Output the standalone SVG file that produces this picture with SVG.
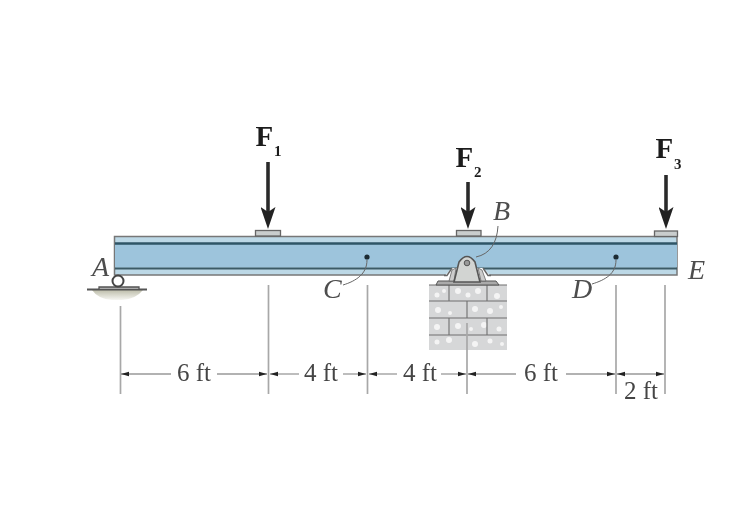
<svg xmlns="http://www.w3.org/2000/svg" width="756" height="528" viewBox="0 0 756 528">
<style>
.lab{font-family:"Liberation Serif","Times New Roman",serif;font-style:italic;font-size:28px;fill:#4d4d4d}
.force{font-family:"Liberation Serif","Times New Roman",serif;font-weight:bold;font-size:29px;fill:#1e1e1e}
.sub{font-family:"Liberation Serif","Times New Roman",serif;font-weight:bold;font-size:15px;fill:#1e1e1e}
.dim{font-family:"Liberation Serif","Times New Roman",serif;font-size:25px;fill:#444;text-anchor:middle}
.ext{stroke:#a8a8a8;stroke-width:1.7;fill:none}
.dl{stroke:#999;stroke-width:1.3;fill:none}
.lead{stroke:#666;stroke-width:1;fill:none}
.f{stroke:#2a2a2a;stroke-width:3.6;fill:none}
.plate{fill:#c9cdcd;stroke:#666;stroke-width:1.3}
.mortar{stroke:#6f6f6f;stroke-width:1.1;fill:none}
</style>
<defs>
<filter id="soft" x="-5%" y="-5%" width="110%" height="110%"><feGaussianBlur stdDeviation="0.55"/></filter>
<linearGradient id="ground" x1="0" y1="0" x2="0" y2="1"><stop offset="0" stop-color="#bdbdaa"/><stop offset="1" stop-color="#f6f6f2"/></linearGradient>
<marker id="tick" viewBox="0 0 8 6" refX="8" refY="3" markerWidth="8" markerHeight="6" markerUnits="userSpaceOnUse" orient="auto-start-reverse"><path d="M0 .8L8 3L0 5.200Z" fill="#222"/></marker>
<marker id="head" viewBox="0 0 22 15" refX="8" refY="7.500" markerWidth="22" markerHeight="15" markerUnits="userSpaceOnUse" orient="auto"><path d="M0 0L5 7.500L0 15L22 7.500Z" fill="#222"/></marker>
</defs>
<rect width="756" height="528" fill="#fff"/>
<g filter="url(#soft)">
<g id="wall">
<rect x="429" y="285" width="78" height="65" fill="#d6d7d8"/>
<g fill="#f4f4f4"><circle cx="437" cy="295" r="2.500"/><circle cx="444" cy="291" r="2"/><circle cx="458" cy="291" r="3"/><circle cx="468" cy="295" r="2.500"/><circle cx="478" cy="291" r="3"/><circle cx="497" cy="296" r="3"/><circle cx="438" cy="310" r="3"/><circle cx="450" cy="313" r="2"/><circle cx="475" cy="309" r="3"/><circle cx="490" cy="311" r="3"/><circle cx="501" cy="307" r="2"/><circle cx="437" cy="327" r="3"/><circle cx="458" cy="326" r="3"/><circle cx="471" cy="329" r="2"/><circle cx="484" cy="325" r="3"/><circle cx="499" cy="329" r="2.500"/><circle cx="437" cy="342" r="2.500"/><circle cx="449" cy="340" r="3"/><circle cx="475" cy="344" r="3"/><circle cx="490" cy="341" r="2.500"/><circle cx="502" cy="344" r="2"/></g>
<path class="mortar" d="M429 285H507M429 301H507M429 318H507M429 335H507M449 285V301M487 285V301M467 301V318M449 318V335M487 318V335"/>
</g>
<g id="beam">
<rect x="114.500" y="236.500" width="562.500" height="38.500" fill="#bcd8e6" stroke="#777" stroke-width="1.500"/>
<rect x="115" y="244" width="562" height="23.500" fill="#9dc4dc"/>
<path d="M115 243.500H677" stroke="#2f5566" stroke-width="2.600"/>
<path d="M115 268.500H677" stroke="#3b5a66" stroke-width="2.200"/>
<rect x="255.500" y="230.500" width="25" height="5.500" class="plate"/>
<rect x="456.500" y="230.500" width="24.500" height="5.500" class="plate"/>
<rect x="654.500" y="231" width="23" height="5.500" class="plate"/>
</g>
<g id="support-a">
<path d="M92 290H143Q136 299 122 300H112Q98 299 92 290Z" fill="url(#ground)"/>
<path d="M87 289.500H147" stroke="#555" stroke-width="2"/>
<path d="M99 289V287H139V289" fill="#aaa" stroke="#555" stroke-width="1.300"/>
<circle cx="118" cy="281" r="5.500" fill="#fff" stroke="#444" stroke-width="2"/>
</g>
<g id="support-b">
<path d="M444 276.500L452 268H483L491 276.500Z" fill="#fff"/>
<path d="M444 275.500H447L452 268" stroke="#666" stroke-width="1.400" fill="none"/>
<path d="M491 275.500H488L483 268" stroke="#666" stroke-width="1.400" fill="none"/>
<path d="M436 285L438 281H496L499 285Z" fill="#aaa" stroke="#555" stroke-width="1"/>
<path d="M449 281L452 270L456 268L454 281Z" fill="#ccc" stroke="#666" stroke-width=".8"/>
<path d="M486 281L482 270L478 268L481 281Z" fill="#ccc" stroke="#666" stroke-width=".8"/>
<path d="M454 282L459 262Q467 251 475 262L480 282Z" fill="#d2d4d2" stroke="#555" stroke-width="1.600"/>
<circle cx="467" cy="263" r="2.800" fill="#999" stroke="#555" stroke-width="1"/>
</g>
<g id="point-c"><circle cx="367" cy="257" r="2.600" fill="#1c2a33"/></g>
<g id="point-d"><circle cx="616" cy="257" r="2.600" fill="#1c2a33"/></g>
<g id="connectors">
<path class="ext" d="M120.500 306V394M268.500 285V394M367.500 285V394M467 323V394M616 285V394M665 285V394"/>
<g class="dl">
<path d="M121 374H171" marker-start="url(#tick)"/>
<path d="M217 374H267" marker-end="url(#tick)"/>
<path d="M270 374H299" marker-start="url(#tick)"/>
<path d="M343 374H366" marker-end="url(#tick)"/>
<path d="M369 374H397" marker-start="url(#tick)"/>
<path d="M441 374H466" marker-end="url(#tick)"/>
<path d="M468 374H516" marker-start="url(#tick)"/>
<path d="M566 374H615" marker-end="url(#tick)"/>
<path d="M617 374H664" marker-start="url(#tick)" marker-end="url(#tick)"/>
</g>
<path class="lead" d="M367 260C367 274 356 281 343 285"/>
<path class="lead" d="M616 260C616 274 605 280 592 284"/>
<path class="lead" d="M498 226C497 243 490 254 476 257"/>
<path class="f" d="M268 162V215" marker-end="url(#head)"/>
<path class="f" d="M468 182V215" marker-end="url(#head)"/>
<path class="f" d="M666 175V215" marker-end="url(#head)"/>
</g>
<g id="labels">
<text class="force" x="255.500" y="146">F</text><text class="sub" x="274" y="156">1</text>
<text class="force" x="455.500" y="167">F</text><text class="sub" x="474" y="177">2</text>
<text class="force" x="655.500" y="158">F</text><text class="sub" x="674" y="169">3</text>
<text class="lab" x="92" y="276">A</text>
<text class="lab" x="493" y="220">B</text>
<text class="lab" x="323" y="298">C</text>
<text class="lab" x="572" y="298">D</text>
<text class="lab" x="688" y="279">E</text>
<text class="dim" x="194" y="381">6 ft</text>
<text class="dim" x="321" y="381">4 ft</text>
<text class="dim" x="420" y="381">4 ft</text>
<text class="dim" x="541" y="381">6 ft</text>
<text class="dim" x="641" y="399">2 ft</text>
</g>
</g>
</svg>
